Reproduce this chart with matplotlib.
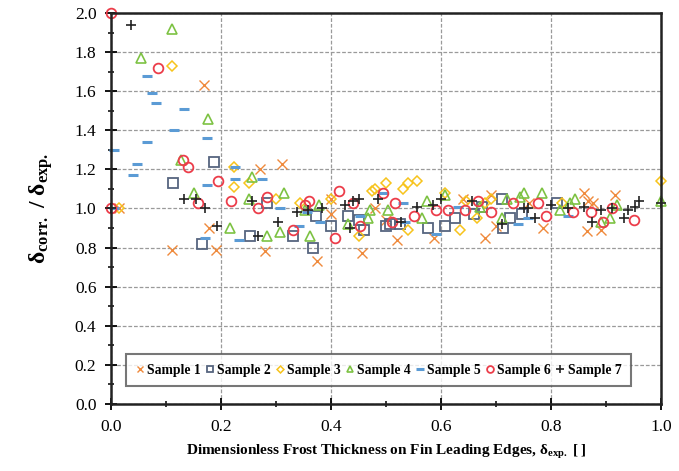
import numpy as np
import matplotlib
matplotlib.use('Agg')
import matplotlib.pyplot as plt
from matplotlib.ticker import MultipleLocator

plt.rcParams['font.family'] = ['Liberation Serif', 'DejaVu Serif']
plt.rcParams['mathtext.fontset'] = 'custom'
plt.rcParams['mathtext.rm'] = 'Liberation Serif:bold'
plt.rcParams['mathtext.it'] = 'Liberation Serif:bold'
plt.rcParams['mathtext.bf'] = 'Liberation Serif:bold'

# sample 1 (x markers)
s1_x = [0.015, 0.11, 0.169, 0.178, 0.19, 0.27, 0.28, 0.31, 0.375, 0.40, 0.40, 0.456, 0.48, 0.50,
        0.52, 0.587, 0.64, 0.68, 0.69, 0.70, 0.76, 0.785, 0.86, 0.865, 0.867, 0.876, 0.89, 0.916]
s1_y = [1.0, 0.79, 1.63, 0.90, 0.79, 1.20, 0.78, 1.23, 0.73, 1.05, 0.97, 0.77, 1.0, 0.94,
        0.84, 0.85, 1.05, 0.85, 1.07, 0.91, 1.03, 0.90, 1.08, 0.885, 1.04, 1.03, 0.89, 1.07]

# sample 2 (squares)
s2_x = [0.113, 0.187, 0.165, 0.253, 0.284, 0.33, 0.367, 0.373, 0.40, 0.43, 0.45, 0.46, 0.50,
        0.507, 0.525, 0.576, 0.607, 0.625, 0.66, 0.675, 0.71, 0.713, 0.725, 0.747, 0.81]
s2_y = [1.13, 1.24, 0.82, 0.86, 1.03, 0.86, 0.80, 0.96, 0.91, 0.96, 0.94, 0.89, 0.91,
        0.92, 0.92, 0.90, 0.91, 0.95, 0.97, 1.01, 1.05, 0.90, 0.95, 0.97, 1.03]

# sample 3 (diamonds)
s3_x = [0.015, 0.11, 0.224, 0.224, 0.25, 0.30, 0.344, 0.40, 0.45, 0.475, 0.48, 0.50, 0.53, 0.54,
        0.556, 0.54, 0.607, 0.635, 0.645, 0.665, 0.68, 0.69, 0.82, 1.0]
s3_y = [1.0, 1.73, 1.21, 1.11, 1.13, 1.05, 1.03, 1.05, 0.86, 1.09, 1.10, 1.13, 1.10, 1.13,
        1.14, 0.89, 1.08, 0.89, 1.04, 0.95, 1.03, 1.05, 1.03, 1.14]

# sample 4 (triangles)
s4_x = [0.11, 0.055, 0.176, 0.127, 0.15, 0.216, 0.25, 0.256, 0.284, 0.307, 0.315, 0.353, 0.362,
        0.378, 0.43, 0.467, 0.47, 0.504, 0.565, 0.575, 0.607, 0.67, 0.71, 0.72, 0.743, 0.75,
        0.784, 0.816, 0.835, 0.844, 0.89, 0.907, 0.92, 1.0]
s4_y = [1.92, 1.77, 1.46, 1.25, 1.08, 0.90, 1.05, 1.16, 0.86, 0.88, 1.08, 0.99, 0.86,
        1.02, 0.92, 0.95, 0.99, 0.99, 0.95, 1.04, 1.07, 1.01, 0.95, 1.05, 1.06, 1.08,
        1.08, 0.99, 1.03, 1.05, 0.93, 0.95, 1.02, 1.04]

# sample 5 (dashes)
s5_x = [0.005, 0.005, 0.04, 0.047, 0.065, 0.065, 0.075, 0.082, 0.115, 0.133, 0.175, 0.175, 0.17,
        0.225, 0.225, 0.233, 0.275, 0.307, 0.342, 0.356, 0.38, 0.453, 0.495, 0.53, 0.535,
        0.59, 0.63, 0.74, 0.758, 0.83]
s5_y = [1.30, 1.0, 1.17, 1.23, 1.68, 1.34, 1.59, 1.54, 1.40, 1.51, 1.36, 1.12, 0.85,
        1.21, 1.15, 0.84, 1.15, 1.0, 0.91, 0.98, 0.93, 0.96, 1.08, 1.03, 0.93,
        0.87, 1.01, 0.92, 0.95, 0.96]

# sample 6 (circles)
s6_x = [0.0, 0.0, 0.085, 0.13, 0.14, 0.195, 0.158, 0.218, 0.267, 0.284, 0.33, 0.353, 0.36,
        0.415, 0.407, 0.44, 0.453, 0.495, 0.516, 0.51, 0.55, 0.59, 0.613, 0.644, 0.667, 0.69,
        0.73, 0.776, 0.79, 0.84, 0.873, 0.894, 0.91, 0.95]
s6_y = [2.0, 1.0, 1.72, 1.25, 1.21, 1.14, 1.03, 1.04, 1.0, 1.06, 0.89, 1.02, 1.04,
        1.09, 0.85, 1.03, 0.91, 1.08, 1.03, 0.93, 0.96, 0.99, 0.99, 0.99, 1.04, 0.98,
        1.03, 1.03, 0.96, 0.98, 0.98, 0.93, 1.0, 0.94]

# sample 7 (plus)
s7_x = [0.0, 0.036, 0.133, 0.155, 0.17, 0.193, 0.256, 0.267, 0.304, 0.338, 0.358, 0.384, 0.425,
        0.44, 0.45, 0.435, 0.485, 0.527, 0.556, 0.585, 0.60, 0.656, 0.71, 0.75, 0.758, 0.77,
        0.80, 0.83, 0.86, 0.875, 0.89, 0.91, 0.933, 0.94, 0.953, 0.96, 1.0]
s7_y = [1.0, 1.94, 1.05, 1.05, 1.0, 0.91, 1.04, 0.86, 0.93, 0.98, 0.99, 1.0, 1.02,
        1.04, 1.05, 0.90, 1.05, 0.93, 1.01, 1.02, 1.05, 1.04, 0.92, 1.0, 1.0, 0.95,
        1.02, 1.0, 1.01, 0.93, 0.99, 1.0, 0.95, 0.99, 1.01, 1.04, 1.03]

series = [
    (s1_x, s1_y, 'Sample 1', dict(marker='x', color='#ef8a3c', ms=6.5, mew=1.0)),
    (s2_x, s2_y, 'Sample 2', dict(marker='s', color='#56657f', ms=6.5, mew=1.3, mfc='none')),
    (s3_x, s3_y, 'Sample 3', dict(marker='D', color='#f7c31c', ms=5.0, mew=1.1, mfc='none')),
    (s4_x, s4_y, 'Sample 4', dict(marker='^', color='#7dc243', ms=7.0, mew=1.2, mfc='none')),
    (s5_x, s5_y, 'Sample 5', dict(marker='_', color='#5b9bd5', ms=7.5, mew=2.2)),
    (s6_x, s6_y, 'Sample 6', dict(marker='o', color='#ec3d4a', ms=7.0, mew=1.3, mfc='none')),
    (s7_x, s7_y, 'Sample 7', dict(marker='+', color='#222222', ms=7.5, mew=1.2)),
]

fig = plt.figure(figsize=(6.79, 4.71), dpi=100)
ax = fig.add_axes([0.1635, 0.1423, 0.81, 0.8301])

for x, y, lab, st in series:
    ax.plot(x, y, linestyle='none', label=lab, clip_on=False, **st)

ax.set_xlim(0, 1.0)
ax.set_ylim(0, 2.0)
ax.xaxis.set_major_locator(MultipleLocator(0.2))
ax.xaxis.set_minor_locator(MultipleLocator(0.1))
ax.yaxis.set_major_locator(MultipleLocator(0.2))
ax.yaxis.set_minor_locator(MultipleLocator(0.1))
ax.xaxis.set_major_formatter(matplotlib.ticker.FormatStrFormatter('%.1f'))
ax.yaxis.set_major_formatter(matplotlib.ticker.FormatStrFormatter('%.1f'))
ax.tick_params(which='major', direction='inout', length=9, width=1.3, labelsize=12.5, pad=6)
ax.tick_params(which='minor', direction='inout', length=5, width=1.1)
ax.tick_params(axis='x', which='both', top=False)
ax.tick_params(axis='y', which='both', right=False)
for s in ax.spines.values():
    s.set_linewidth(1.8)
    s.set_color('#222222')

ax.grid(True, which='major', color='#9a9a9a', linestyle=(0, (3, 1.5)), linewidth=0.9)
ax.set_axisbelow(True)

ax.set_xlabel(r'Dimensionless Frost Thickness on Fin Leading Edges, δ$_{\mathrm{exp.}}$ [ ]',
              fontsize=11, fontweight='bold', labelpad=6)
ax.set_ylabel(r'δ$_{\mathrm{corr.}}$ / δ$_{\mathrm{exp.}}$', fontsize=17, fontweight='bold', labelpad=14)

leg = ax.legend(loc='lower left', bbox_to_anchor=(0.02, 0.035), ncol=7,
                prop={'weight': 'bold', 'size': 9.8}, handlelength=0.6, handletextpad=0.25,
                columnspacing=0.35, fancybox=False, borderpad=0.7, borderaxespad=0.3,
                markerscale=0.7)
leg.get_frame().set_edgecolor('#555555')
leg.get_frame().set_linewidth(1.5)

fig.savefig('out.png', dpi=100)
